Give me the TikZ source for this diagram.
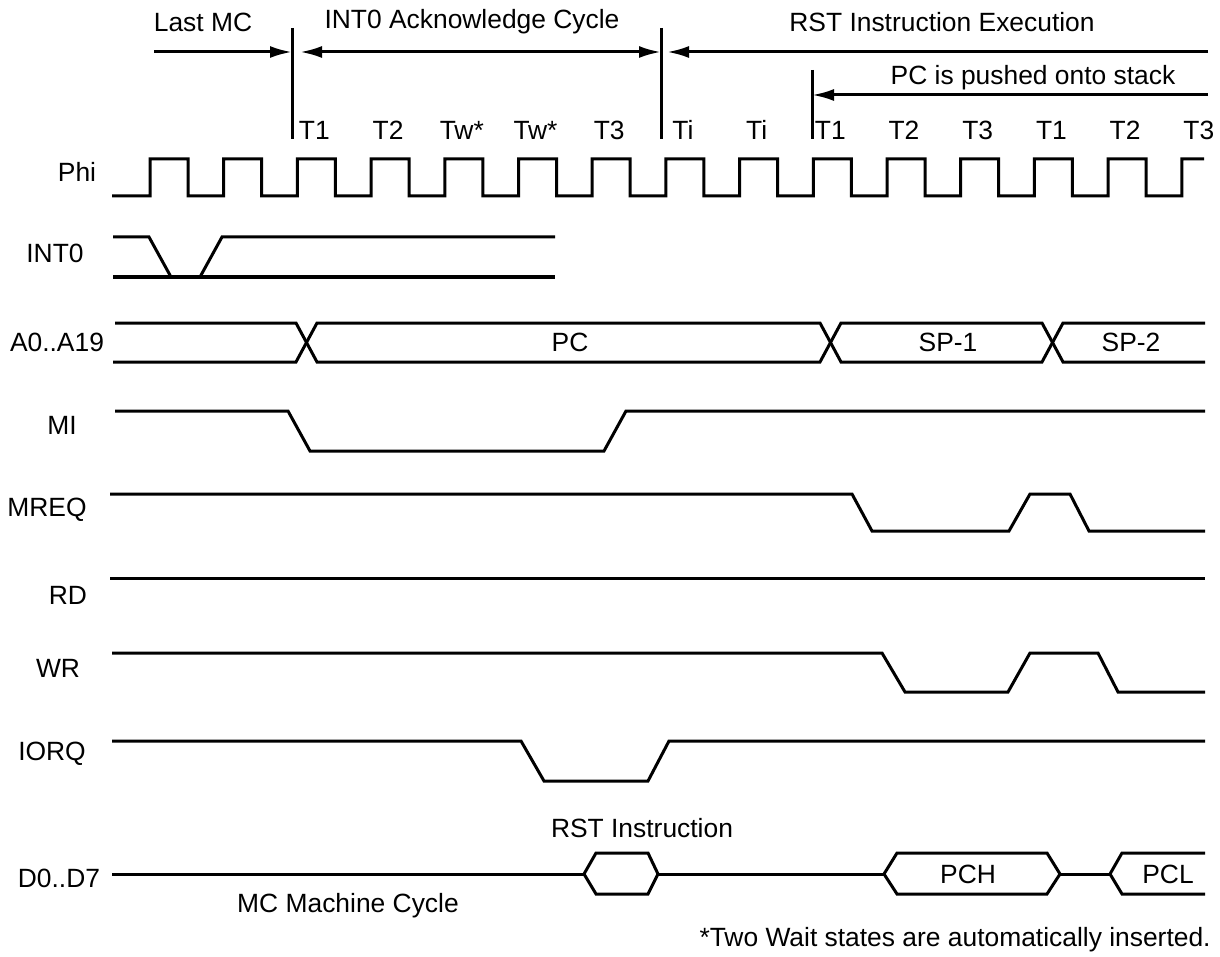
\documentclass[tikz,border=0pt]{standalone}
\usepackage{fontspec}
\setmainfont{Liberation Sans}
\usepackage{tikz}
\usetikzlibrary{arrows.meta}
\tikzset{
	sig/.style={line width=1.5pt},
	lbl/.style={inner sep=0pt, font=\fontsize{13.2}{15}\selectfont},
	>={Latex[length=11pt,width=6pt]}
}

\begin{document}
\begin{tikzpicture}[x=0.5pt, y=-0.5pt, line join=miter]
		%%%%% START %%%%%
		\useasboundingbox (0, 0) rectangle (1220, 957);
		
		% cycle headings
		\node[lbl] (lastmc) at (203, 22) {Last MC};
		\node[lbl] (ackcyc) at (472, 22) {INT0 Acknowledge Cycle};
		\node[lbl] (rstexe) at (942, 22) {RST Instruction Execution};
		\node[lbl] (pushed) at (1033, 78) {PC is pushed onto stack};
		
		\draw[sig] (292, 28) -- (292, 139);
		\draw[sig] (661, 28) -- (661, 139);
		\draw[sig] (812, 70) -- (812, 139);
		
		\draw[sig, ->] (154, 52) -- (292, 52);
		\draw[sig, <->] (300, 52) -- (661, 52);
		\draw[sig, ->] (1208, 52) -- (667, 52);
		\draw[sig, ->] (1208, 95) -- (812, 95);
		
		% T states
		\foreach \k/\t in {2/T1, 3/T2, 4/Tw*, 5/Tw*, 6/T3, 7/Ti, 8/Ti, 9/T1, 10/T2, 11/T3, 12/T1, 13/T2, 14/T3}
			\node[lbl] (ts\k) at ({150 + 73.7*\k + 17}, 130) {\t};
		
		% signal names
		\node[lbl] (phi) at (77, 172) {Phi};
		\node[lbl] (int) at (55, 253) {INT0};
		\node[lbl] (addr) at (57, 342) {A0..A19};
		\node[lbl] (mi) at (62, 425) {MI};
		\node[lbl] (mreq) at (47, 510) {MREQ};
		\node[lbl] (rd) at (68, 595) {RD};
		\node[lbl] (wr) at (58, 668) {WR};
		\node[lbl] (iorq) at (52, 754) {IORQ};
		\node[lbl] (data) at (59, 878) {D0..D7};
		
		% Phi
		\draw[sig] (112, 196) -- (150, 196)
			\foreach \k in {0,...,13} {
				-- ({150 + 73.7*\k}, 159) -- ({188 + 73.7*\k}, 159)
				-- ({188 + 73.7*\k}, 196) -- ({150 + 73.7*(\k+1)}, 196)
			} -- (1181.8, 159) -- (1204, 159);
		
		% INT0
		\draw[sig] (113, 237) -- (149, 237) -- (171, 277);
		\draw[sig] (200, 277) -- (222, 237) -- (555, 237);
		\draw[sig] (113, 277) -- (555, 277);
		
		% A0..A19
		\draw[sig] (115, 323) -- (296, 323) -- (317, 362) -- (820, 362) -- (841, 323)
			-- (1042, 323) -- (1063, 362) -- (1205, 362);
		\draw[sig] (113, 362) -- (296, 362) -- (317, 323) -- (820, 323) -- (841, 362)
			-- (1042, 362) -- (1063, 323) -- (1205, 323);
		\node[lbl] (pc) at (570, 342) {PC};
		\node[lbl] (sp1) at (948, 342) {SP-1};
		\node[lbl] (sp2) at (1131, 342) {SP-2};
		
		% MI
		\draw[sig] (115, 411) -- (288, 411) -- (310, 451) -- (604, 451) -- (626, 411) -- (1205, 411);
		
		% MREQ
		\draw[sig] (110, 494) -- (852, 494) -- (872, 531) -- (1009, 531) -- (1030, 494)
			-- (1070, 494) -- (1089, 531) -- (1205, 531);
		
		% RD
		\draw[sig] (110, 578) -- (1205, 578);
		
		% WR
		\draw[sig] (112, 653) -- (882, 653) -- (905, 692) -- (1008, 692) -- (1030, 653)
			-- (1098, 653) -- (1118, 692) -- (1205, 692);
		
		% IORQ
		\draw[sig] (112, 741) -- (521, 741) -- (544, 781) -- (648, 781) -- (669, 741) -- (1205, 741);
		
		% D0..D7
		\draw[sig] (112, 874) -- (584, 874);
		\draw[sig] (584, 874) -- (596, 853) -- (648, 853) -- (658, 874) -- (648, 894) -- (596, 894) -- cycle;
		\draw[sig] (658, 874) -- (884, 874);
		\draw[sig] (884, 874) -- (897, 853) -- (1047, 853) -- (1060, 874) -- (1047, 894) -- (897, 894) -- cycle;
		\draw[sig] (1060, 874) -- (1110, 874);
		\draw[sig] (1205, 853) -- (1122, 853) -- (1110, 874) -- (1122, 894) -- (1205, 894);
		\node[lbl] (pch) at (968, 874) {PCH};
		\node[lbl] (pcl) at (1168, 874) {PCL};
		
		\node[lbl] (rstins) at (642, 828) {RST Instruction};
		\node[lbl] (mcnote) at (348, 906) {MC Machine Cycle};
		\node[lbl, anchor=east] (waitnote) at (1211, 940) {*Two Wait states are automatically inserted.};
		%%%%% END %%%%%
	\end{tikzpicture}
\end{document}
